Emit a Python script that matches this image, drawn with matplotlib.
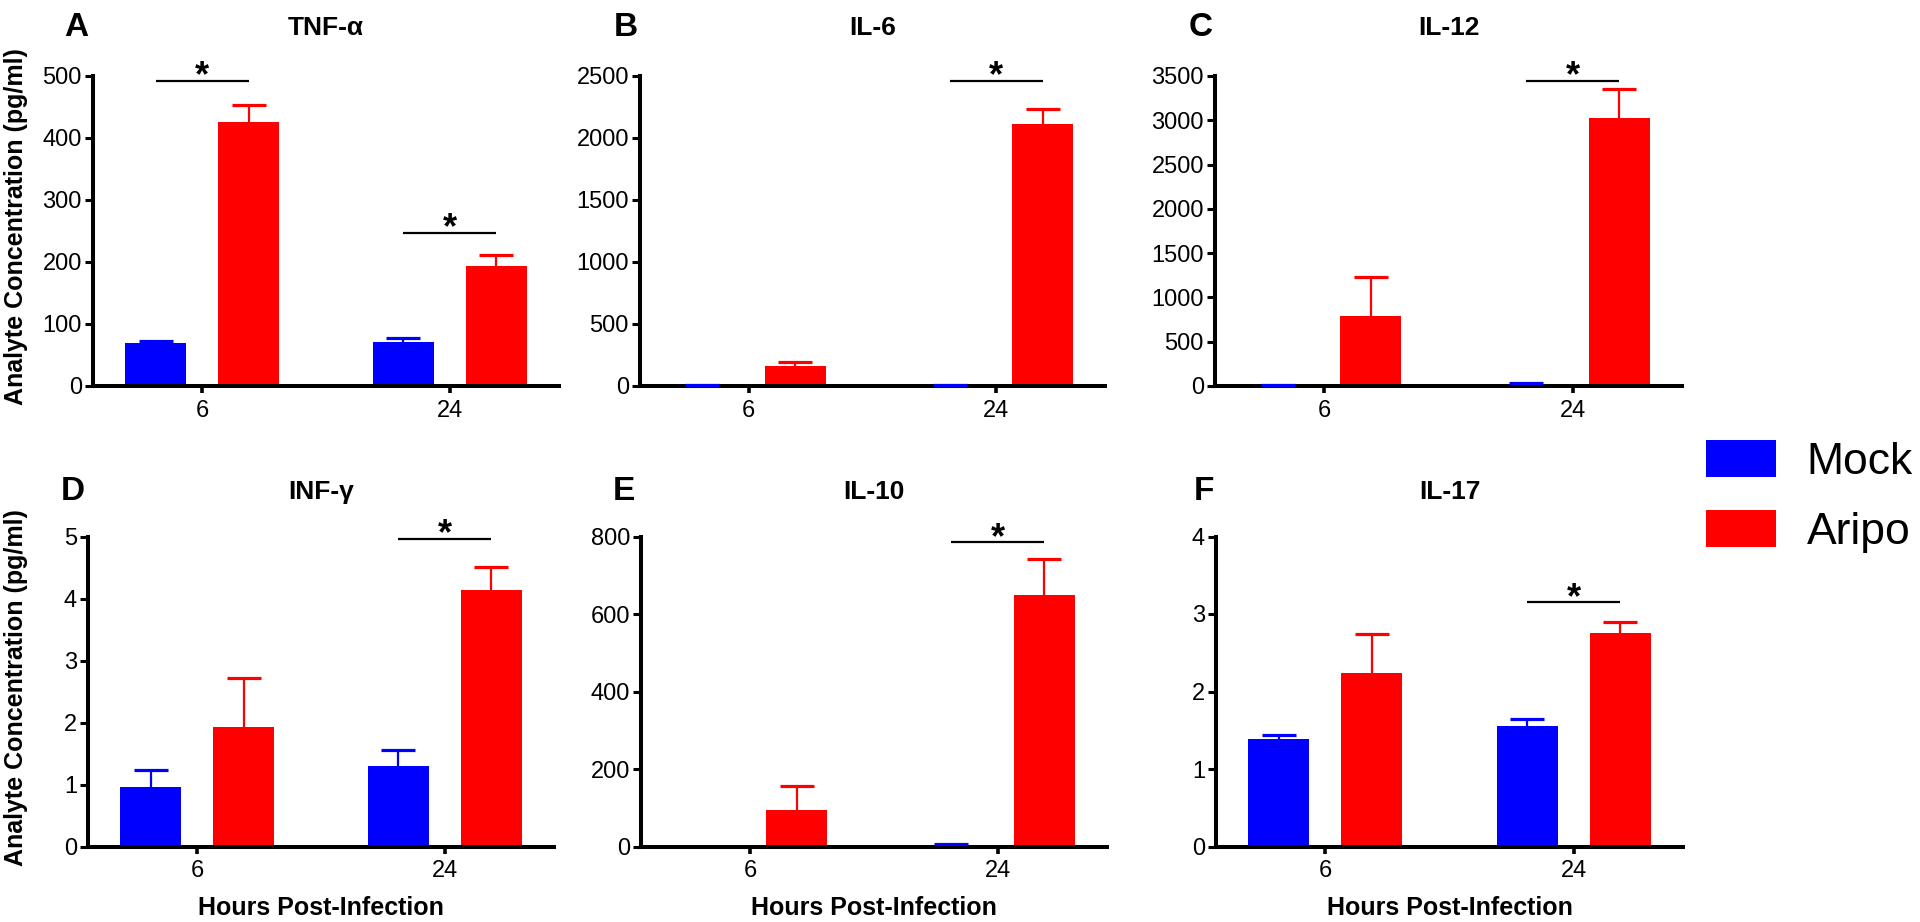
import numpy as np
import matplotlib
matplotlib.use("Agg")
import matplotlib.pyplot as plt

plt.rcParams['font.family'] = ['Liberation Sans', 'DejaVu Sans']

# ---------------- data ----------------
hours = ['6', '24']
cytokines = ['TNF-α', 'IL-6', 'IL-12', 'INF-γ', 'IL-10', 'IL-17']
letters = ['A', 'B', 'C', 'D', 'E', 'F']
series = ['Mock', 'Aripo']

mock_tnf = [69, 71.5];      mock_tnf_err = [4, 5.5]
aripo_tnf = [426, 194];     aripo_tnf_err = [27, 17]
mock_il6 = [4, 5];          mock_il6_err = [4, 5]
aripo_il6 = [162, 2109];    aripo_il6_err = [32, 124]
mock_il12 = [6, 22];        mock_il12_err = [6, 8]
aripo_il12 = [793, 3021];   aripo_il12_err = [434, 328]
mock_inf = [0.96, 1.30];    mock_inf_err = [0.28, 0.26]
aripo_inf = [1.92, 4.14];   aripo_inf_err = [0.80, 0.37]
mock_il10 = [0, 3];         mock_il10_err = [0, 3]
aripo_il10 = [93, 648];     aripo_il10_err = [64, 94]
mock_il17 = [1.39, 1.56];   mock_il17_err = [0.05, 0.08]
aripo_il17 = [2.24, 2.76];  aripo_il17_err = [0.50, 0.14]

y_max = [500, 2500, 3500, 5, 800, 4]
y_step = [100, 500, 500, 1, 200, 1]

# significance bars: (hour index, bar height)
sig_tnf = [(0, 492), (1, 247)]
sig_il6 = [(1, 2462)]
sig_il12 = [(1, 3447)]
sig_inf = [(1, 4.96)]
sig_il10 = [(1, 785)]
sig_il17 = [(1, 3.15)]

mock_vals = [mock_tnf, mock_il6, mock_il12, mock_inf, mock_il10, mock_il17]
mock_errs = [mock_tnf_err, mock_il6_err, mock_il12_err, mock_inf_err, mock_il10_err, mock_il17_err]
aripo_vals = [aripo_tnf, aripo_il6, aripo_il12, aripo_inf, aripo_il10, aripo_il17]
aripo_errs = [aripo_tnf_err, aripo_il6_err, aripo_il12_err, aripo_inf_err, aripo_il10_err, aripo_il17_err]
sigs = [sig_tnf, sig_il6, sig_il12, sig_inf, sig_il10, sig_il17]

# ---------------- style / layout ----------------
W, H = 1920, 922
BLUE = '#0000FF'
RED = '#FF0000'
boxes = [  # left, right, top, bottom in pixels
    (93, 559, 76, 386),
    (640, 1105, 76, 386),
    (1215, 1682, 76, 386),
    (88, 554, 536.5, 846.5),
    (641, 1107, 536.5, 846.5),
    (1216, 1683, 536.5, 846.5),
]
letter_dx = [-29, -26, -26, -27, -28, -22]
row_above = [41, 41, 41, 38, 38, 38]
bar_w = 0.246
off = 0.1875

fig = plt.figure(figsize=(W / 100, H / 100), dpi=100)
x = np.arange(len(hours))
axes = []
for i in range(6):
    l, r, t, b = boxes[i]
    ax = fig.add_axes([l / W, 1 - b / H, (r - l) / W, (b - t) / H])
    axes.append(ax)
    ax.bar(x - off, mock_vals[i], width=bar_w, color=BLUE, label=series[0], zorder=2)
    ax.bar(x + off, aripo_vals[i], width=bar_w, color=RED, label=series[1], zorder=2)
    for xs, vals, errs, col in [(x - off, mock_vals[i], mock_errs[i], BLUE),
                                (x + off, aripo_vals[i], aripo_errs[i], RED)]:
        for xx, v, e in zip(xs, vals, errs):
            if e <= 0:
                continue
            eb = ax.errorbar([xx], [v], yerr=[[0], [e]], fmt='none', ecolor=col,
                             elinewidth=1.6, capsize=11.9, capthick=2.3, zorder=3,
                             clip_on=False)
            caps = eb[1]
            if len(caps) > 1:
                caps[0].set_visible(False)
    for gi, yv in sigs[i]:
        ax.plot([x[gi] - off, x[gi] + off], [yv, yv], color='black', lw=1.6,
                clip_on=False, zorder=4, solid_capstyle='butt')
        ax.annotate('*', xy=(x[gi], yv), xytext=(0, -4), textcoords='offset points',
                    ha='center', va='baseline', fontsize=26, fontweight='bold',
                    annotation_clip=False)
    ax.set_xlim(-0.44, 1.44)
    ax.set_ylim(0, y_max[i])
    ax.set_yticks(np.arange(0, y_max[i] + y_step[i] / 2, y_step[i]))
    ax.set_xticks(x)
    ax.set_xticklabels(hours)
    for s in ['top', 'right']:
        ax.spines[s].set_visible(False)
    for s in ['left', 'bottom']:
        ax.spines[s].set_linewidth(2.9)
    ax.tick_params(axis='y', length=6, width=2.2, labelsize=17, pad=2)
    ax.tick_params(axis='x', length=5, width=2.6, labelsize=17, pad=5)
    ax.annotate(letters[i], xy=(0, 1), xycoords='axes fraction',
                xytext=(letter_dx[i], row_above[i] - 1), textcoords='offset pixels',
                ha='left', va='baseline', fontsize=24, fontweight='bold')
    ax.annotate(cytokines[i], xy=(0.5, 1), xycoords='axes fraction',
                xytext=(0, row_above[i]), textcoords='offset pixels',
                ha='center', va='baseline', fontsize=19, fontweight='bold')
    if i >= 3:
        ax.set_xlabel('Hours Post-Infection', fontsize=18, fontweight='bold', labelpad=10)

for i in [0, 3]:
    l, r, t, b = boxes[i]
    fig.text(16 / W, 1 - ((t + b) / 2 - 4) / H, 'Analyte Concentration (pg/ml)',
             rotation=90, ha='center', va='center', fontsize=18, fontweight='bold')

handles, labels = axes[5].get_legend_handles_labels()
fig.legend(handles, labels, loc='upper left', bbox_to_anchor=(1706 / W, 1 - 440 / H),
           frameon=False, fontsize=32, handlelength=1.58, handleheight=0.92,
           handletextpad=0.68, labelspacing=0.6, borderpad=0, borderaxespad=0)

fig.savefig('out.png', dpi=100, facecolor='white')
